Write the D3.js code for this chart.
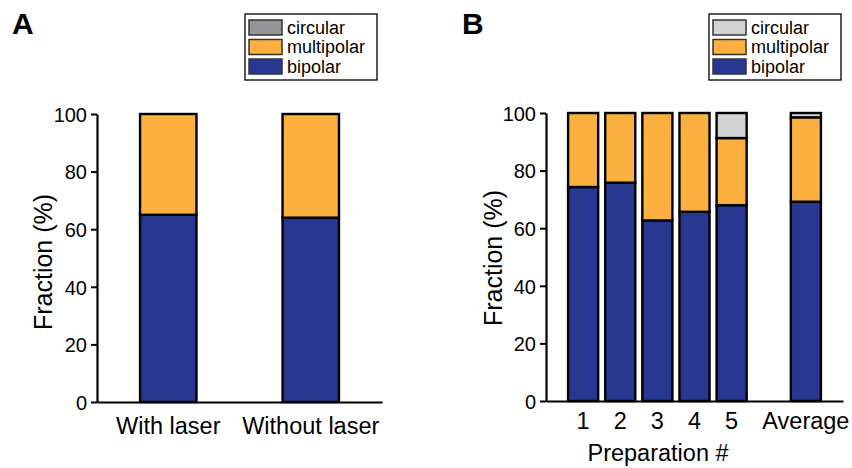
<!DOCTYPE html>
<html>
<head>
<meta charset="utf-8">
<script src="https://cdn.jsdelivr.net/npm/d3@7"></script>
<style>
    body { margin: 0; background: #fff; }
    text { font-family: "Liberation Sans", Arial, sans-serif; fill: #000; }
</style>
</head>
<body>
<script>
var w = 852;
var h = 468;

// panel A
var categoriesA = ["With laser", "Without laser"];
var bipolarA = [65, 64];
var multipolarA = [35, 36];
var circularA = [0, 0];

// panel B (the empty slot keeps the gap before "Average")
var categoriesB = ["1", "2", "3", "4", "5", " ", "Average"];
var bipolarB = [74.3, 75.8, 62.7, 65.7, 68, null, 69.2];
var multipolarB = [25.7, 24.2, 37.3, 34.3, 23.3, null, 29.3];
var circularB = [0, 0, 0, 0, 8.7, null, 1.5];

var yTicks = [0, 20, 40, 60, 80, 100];
var legendLabels = ["circular", "multipolar", "bipolar"];
var seriesKeys = ["bipolar", "multipolar", "circular"];

var blue = "#283891";
var orange = "#fbb040";

var svg = d3.select("body")
    .append("svg")
    .attr("width", w)
    .attr("height", h);

var buildRows = function (cats, bip, mul, cir) {
    var rows = [];
    for (var i = 0; i < cats.length; i++) {
        if (bip[i] == null) continue;
        rows.push({ cat: cats[i], bipolar: bip[i], multipolar: mul[i], circular: cir[i] });
    }
    return rows;
}

var drawPanel = function (opt) {
    var g = svg.append("g");

    var x = d3.scaleBand()
        .domain(opt.categories)
        .range([opt.x0, opt.x1])
        .paddingInner(opt.pi)
        .paddingOuter(opt.po);

    var y = d3.scaleLinear().domain([0, 100]).range([opt.yBottom, opt.yTop]);

    var color = d3.scaleOrdinal().domain(seriesKeys).range([blue, orange, opt.gray]);

    var stacked = d3.stack().keys(seriesKeys)(opt.rows);

    g.selectAll("g.series")
        .data(stacked)
        .enter()
        .append("g")
        .attr("class", "series")
        .style("fill", (d) => { return color(d.key) })
        .selectAll("rect")
        .data((d) => { return d.filter((s) => { return s[1] - s[0] > 0 }) })
        .enter()
        .append("rect")
        .attr("x", (d) => { return x(d.data.cat) })
        .attr("width", x.bandwidth())
        .attr("y", (d) => { return y(d[1]) })
        .attr("height", (d) => { return y(d[0]) - y(d[1]) })
        .style("stroke", "#000")
        .style("stroke-width", 2.4);

    // y axis
    var yAxis = g.append("g")
        .attr("transform", "translate(" + opt.x0 + ",0)")
        .call(d3.axisLeft(y).tickValues(yTicks).tickSize(6).tickSizeOuter(0).tickPadding(4));
    yAxis.select(".domain").style("stroke", "#000").style("stroke-width", 2.2);
    yAxis.selectAll(".tick line").style("stroke", "#000").style("stroke-width", 2);
    yAxis.selectAll(".tick text")
        .style("font-size", "20px")
        .style("font-family", "Liberation Sans, Arial, sans-serif")
        .attr("dy", "0.36em");

    // x axis (baseline and labels)
    var xAxis = g.append("g")
        .attr("transform", "translate(0," + opt.yBottom + ")")
        .call(d3.axisBottom(x).tickSize(0).tickSizeOuter(0).tickPadding(opt.xPad));
    xAxis.select(".domain").style("stroke", "#000").style("stroke-width", 2.2);
    xAxis.selectAll(".tick text")
        .style("font-size", "23.5px")
        .style("font-family", "Liberation Sans, Arial, sans-serif");

    // y label
    g.append("text")
        .attr("transform", "translate(" + opt.yLabelX + "," + opt.yLabelY + ") rotate(-90)")
        .attr("text-anchor", "middle")
        .style("font-size", "25px")
        .text("Fraction (%)");

    if (opt.xLabel) {
        g.append("text")
            .attr("x", opt.xLabelX)
            .attr("y", opt.xLabelY)
            .attr("text-anchor", "middle")
            .style("font-size", "23.5px")
            .text(opt.xLabel);
    }

    // panel letter
    g.append("text")
        .attr("x", opt.letterX)
        .attr("y", 34)
        .style("font-size", "30px")
        .style("font-weight", "bold")
        .text(opt.letter);

    // legend
    var legend = g.append("g").attr("transform", "translate(" + opt.legendX + ",14)");
    legend.append("rect")
        .attr("x", 0)
        .attr("y", 0)
        .attr("width", 132)
        .attr("height", 66)
        .style("fill", "#fff")
        .style("stroke", "#000")
        .style("stroke-width", 1.3);

    var legendColors = [opt.gray, orange, blue];
    var items = legend.selectAll("g.item")
        .data(legendLabels)
        .enter()
        .append("g")
        .attr("class", "item")
        .attr("transform", (d, i) => { return "translate(4," + (6 + i * 19.5) + ")" });
    items.append("rect")
        .attr("width", 33)
        .attr("height", 15)
        .style("fill", (d, i) => { return legendColors[i] })
        .style("stroke", "#333")
        .style("stroke-width", 1.5);
    items.append("text")
        .attr("x", 38)
        .attr("y", 13.5)
        .style("font-size", "18px")
        .text((d) => { return d });
}

drawPanel({
    rows: buildRows(categoriesA, bipolarA, multipolarA, circularA),
    categories: categoriesA,
    x0: 97, x1: 382, pi: 0.604, po: 0.302,
    yBottom: 402, yTop: 114,
    gray: "#939598",
    xPad: 15,
    yLabelX: 52, yLabelY: 262,
    letter: "A", letterX: 12,
    legendX: 245
});

drawPanel({
    rows: buildRows(categoriesB, bipolarB, multipolarB, circularB),
    categories: categoriesB,
    x0: 546, x1: 843, pi: 0.19, po: 0.595,
    yBottom: 401, yTop: 113,
    gray: "#d1d3d4",
    xPad: 11,
    yLabelX: 502, yLabelY: 258,
    xLabel: "Preparation #", xLabelX: 658, xLabelY: 461,
    letter: "B", letterX: 462,
    legendX: 709
});
</script>
</body>
</html>
